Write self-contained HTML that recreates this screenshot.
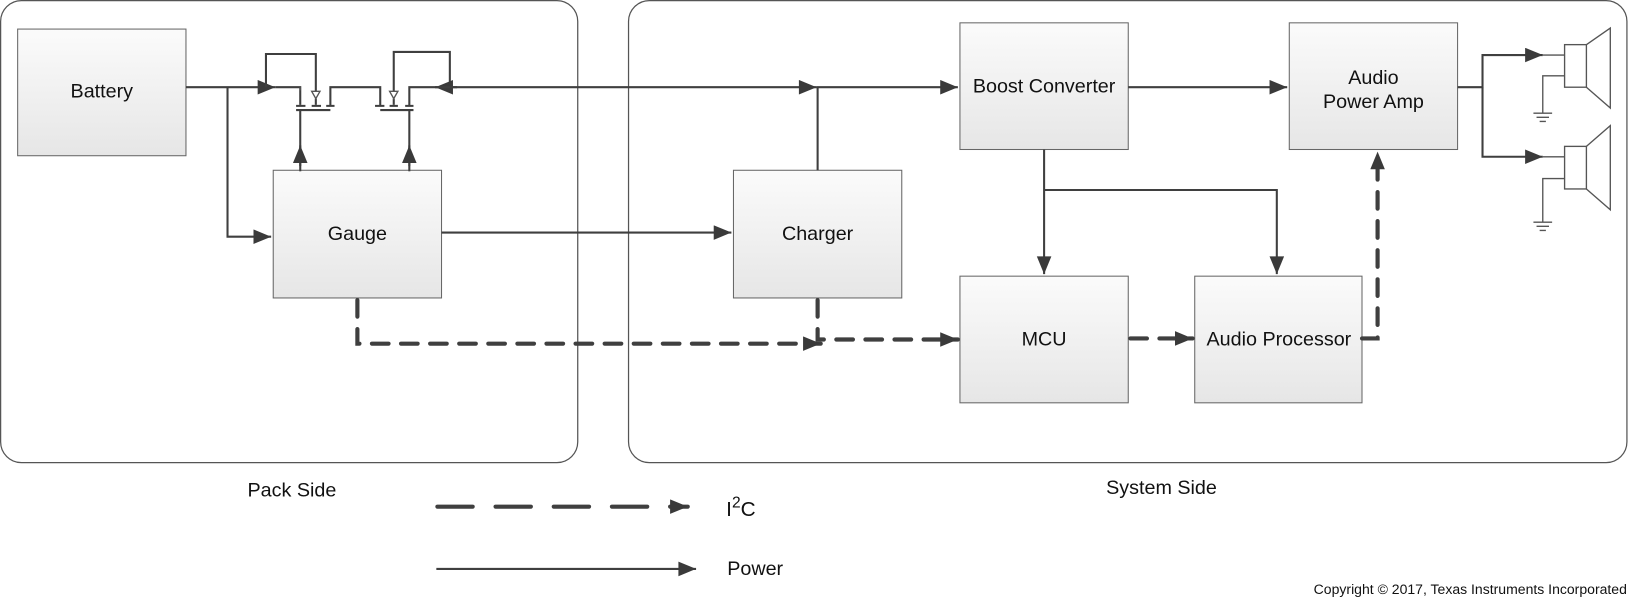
<!DOCTYPE html>
<html><head><meta charset="utf-8"><style>
html,body{margin:0;padding:0;background:#fff;width:1629px;height:598px;overflow:hidden}
svg{display:block}
text{font-family:"Liberation Sans",sans-serif;fill:#111}
</style></head><body>
<svg width="1629" height="598" viewBox="0 0 1568 576" preserveAspectRatio="none" xmlns="http://www.w3.org/2000/svg">
<defs>
<linearGradient id="g" x1="0" y1="0" x2="0" y2="1"><stop offset="0" stop-color="#fbfbfb"/><stop offset="1" stop-color="#e6e6e6"/></linearGradient>
<marker id="a" markerUnits="userSpaceOnUse" markerWidth="20" markerHeight="16" refX="18" refY="7" orient="auto"><path d="M1,0 L18,7 L1,14 Z" fill="#3a3a3a"/></marker>
</defs>
<g fill="none" stroke="#555" stroke-width="1.2">
<rect x="0.6" y="0.6" width="555.5" height="445" rx="20"/>
<rect x="605" y="0.6" width="961" height="445" rx="20"/>
</g>
<g fill="url(#g)" stroke="#666" stroke-width="1">
<rect x="17" y="28" width="162" height="122"/>
<rect x="263" y="164" width="162" height="123"/>
<rect x="706" y="164" width="162" height="123"/>
<rect x="924" y="22" width="162" height="122"/>
<rect x="1241" y="22" width="162" height="122"/>
<rect x="924" y="266" width="162" height="122"/>
<rect x="1150" y="266" width="161" height="122"/>
</g>
<g font-size="19" text-anchor="middle">
<text x="98" y="94">Battery</text>
<text x="344" y="231">Gauge</text>
<text x="787" y="231">Charger</text>
<text x="1005" y="89">Boost Converter</text>
<text x="1322" y="81">Audio</text>
<text x="1322" y="104">Power  Amp</text>
<text x="1005" y="333">MCU</text>
<text x="1231" y="333">Audio Processor</text>
<text x="281" y="478">Pack  Side</text>
<text x="1118" y="476">System Side</text>
</g>
<g fill="none" stroke="#3f3f3f" stroke-width="2">
<path d="M179,84 H265" marker-end="url(#a)"/>
<path d="M219,84 V228 H261" marker-end="url(#a)"/>
<path d="M256,84 V52 H304 V88"/>
<path d="M265,84 H289 V101"/>
<path d="M304,95 V101"/>
<path d="M285,102 H294 M300,102 H309 M314,102 H322"/>
<path d="M285,106 H318"/>
<path d="M318,102 V84 H366 V102"/>
<path d="M289,106 V165"/>
<path d="M289,160 V140" marker-end="url(#a)"/>
<path d="M361,102 H370 M375,102 H383 M390,102 H398"/>
<path d="M366,106 H398"/>
<path d="M379,88 V50 H433 V84"/>
<path d="M379,95 V101"/>
<path d="M394,102 V84 H420"/>
<path d="M394,106 V165"/>
<path d="M394,160 V140" marker-end="url(#a)"/>
<path d="M440,84 H419" marker-end="url(#a)"/>
<path d="M419,84 H786" marker-end="url(#a)"/>
<path d="M786,84 H922" marker-end="url(#a)"/>
<path d="M787,164 V84"/>
<path d="M425,224 H704" marker-end="url(#a)"/>
<path d="M1086,84 H1239" marker-end="url(#a)"/>
<path d="M1005,144 V264" marker-end="url(#a)"/>
<path d="M1005,183 H1229 V264" marker-end="url(#a)"/>
<path d="M1403,84 H1427 V53 H1485" marker-end="url(#a)"/>
<path d="M1427,84 V151 H1485" marker-end="url(#a)"/>
</g>
<g fill="none" stroke="#555" stroke-width="1.3">
<path d="M289,84 V87 M300,88 H308 L304,95 Z M375,88 H383 L379,95 Z"/>
<path d="M1485,53 H1506"/>
<rect x="1506" y="43" width="21" height="41"/>
<path d="M1527,43 L1550,27 V104 L1527,84"/>
<path d="M1506,73 H1485 V109 M1476,109 H1494 M1479,113 H1491 M1482,117 H1488"/>
<path d="M1485,151 H1506"/>
<rect x="1506" y="141" width="21" height="41"/>
<path d="M1527,141 L1550,121 V202 L1527,182"/>
<path d="M1506,172 H1485 V214 M1476,214 H1494 M1479,218 H1491 M1482,222 H1488"/>
</g>
<g fill="none" stroke="#3f3f3f" stroke-width="4" stroke-dasharray="16 12" stroke-linecap="round">
<path d="M344,289 V331 H790" marker-end="url(#a)"/>
<path d="M787,289 V327 H922" marker-end="url(#a)"/>
<path d="M1088,326 H1148" marker-end="url(#a)"/>
<path d="M1311,326 H1326 V146" marker-end="url(#a)"/>
<path d="M421,488 H662" stroke-dasharray="34 22" marker-end="url(#a)"/>
</g>
<path d="M420,548 H670" stroke="#3f3f3f" stroke-width="2" marker-end="url(#a)"/>
<text x="699" y="497" font-size="20">I<tspan dy="-8" font-size="15">2</tspan><tspan dy="8">C</tspan></text>
<text x="700" y="554" font-size="19">Power</text>
<text x="1566" y="572" font-size="13.5" text-anchor="end">Copyright © 2017, Texas Instruments Incorporated</text>
</svg>
</body></html>
